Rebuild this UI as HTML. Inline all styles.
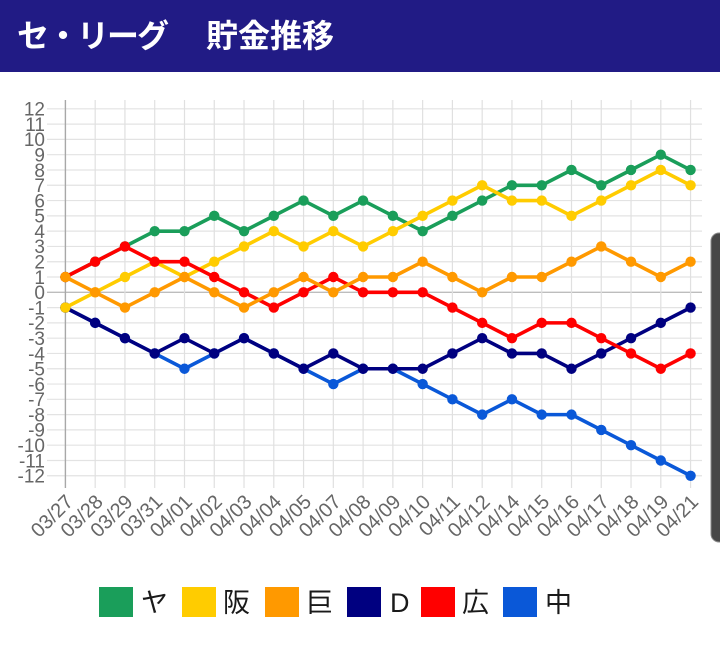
<!DOCTYPE html>
<html>
<head>
<meta charset="utf-8">
<style>
html,body{margin:0;padding:0;background:#fff;}
body{width:720px;height:652px;overflow:hidden;position:relative;}
svg{display:block;}
</style>
</head>
<body>
<svg width="720" height="652" viewBox="0 0 720 652" xmlns="http://www.w3.org/2000/svg">
<defs>
<marker id="mg" markerUnits="userSpaceOnUse" markerWidth="12" markerHeight="12" refX="6" refY="6"><circle cx="6" cy="6" r="5.2" fill="#1a9e5a"/></marker>
<marker id="my" markerUnits="userSpaceOnUse" markerWidth="12" markerHeight="12" refX="6" refY="6"><circle cx="6" cy="6" r="5.2" fill="#ffcc00"/></marker>
<marker id="mo" markerUnits="userSpaceOnUse" markerWidth="12" markerHeight="12" refX="6" refY="6"><circle cx="6" cy="6" r="5.2" fill="#ff9900"/></marker>
<marker id="mn" markerUnits="userSpaceOnUse" markerWidth="12" markerHeight="12" refX="6" refY="6"><circle cx="6" cy="6" r="5.2" fill="#000080"/></marker>
<marker id="mr" markerUnits="userSpaceOnUse" markerWidth="12" markerHeight="12" refX="6" refY="6"><circle cx="6" cy="6" r="5.2" fill="#ff0000"/></marker>
<marker id="mb" markerUnits="userSpaceOnUse" markerWidth="12" markerHeight="12" refX="6" refY="6"><circle cx="6" cy="6" r="5.2" fill="#0a58d8"/></marker>
</defs>

<!-- header -->
<rect x="0" y="0" width="720" height="72" fill="#211b85"/>
<text y="47" font-family="'Liberation Sans','Noto Sans CJK JP',sans-serif" font-size="32" font-weight="bold" fill="#ffffff"><tspan x="17" letter-spacing="-2">セ・リーグ</tspan><tspan x="206">貯金推移</tspan></text>

<!-- horizontal grid -->
<g stroke="#e3e3e3" stroke-width="1.2">
<line x1="47" y1="108.82" x2="702" y2="108.82"/>
<line x1="47" y1="124.11" x2="702" y2="124.11"/>
<line x1="47" y1="139.4" x2="702" y2="139.4"/>
<line x1="47" y1="154.69" x2="702" y2="154.69"/>
<line x1="47" y1="169.98" x2="702" y2="169.98"/>
<line x1="47" y1="185.27" x2="702" y2="185.27"/>
<line x1="47" y1="200.56" x2="702" y2="200.56"/>
<line x1="47" y1="215.85" x2="702" y2="215.85"/>
<line x1="47" y1="231.14" x2="702" y2="231.14"/>
<line x1="47" y1="246.43" x2="702" y2="246.43"/>
<line x1="47" y1="261.72" x2="702" y2="261.72"/>
<line x1="47" y1="277.01" x2="702" y2="277.01"/>
<line x1="47" y1="307.59" x2="702" y2="307.59"/>
<line x1="47" y1="322.88" x2="702" y2="322.88"/>
<line x1="47" y1="338.17" x2="702" y2="338.17"/>
<line x1="47" y1="353.46" x2="702" y2="353.46"/>
<line x1="47" y1="368.75" x2="702" y2="368.75"/>
<line x1="47" y1="384.04" x2="702" y2="384.04"/>
<line x1="47" y1="399.33" x2="702" y2="399.33"/>
<line x1="47" y1="414.62" x2="702" y2="414.62"/>
<line x1="47" y1="429.91" x2="702" y2="429.91"/>
<line x1="47" y1="445.2" x2="702" y2="445.2"/>
<line x1="47" y1="460.49" x2="702" y2="460.49"/>
<line x1="47" y1="475.78" x2="702" y2="475.78"/>
</g>
<line x1="47" y1="292.3" x2="702" y2="292.3" stroke="#bdbdbd" stroke-width="1.4"/>

<!-- vertical grid -->
<g stroke="#e0e0e0" stroke-width="1.2">
<line x1="95.17" y1="100" x2="95.17" y2="488"/>
<line x1="124.94" y1="100" x2="124.94" y2="488"/>
<line x1="154.71" y1="100" x2="154.71" y2="488"/>
<line x1="184.48" y1="100" x2="184.48" y2="488"/>
<line x1="214.25" y1="100" x2="214.25" y2="488"/>
<line x1="244.02" y1="100" x2="244.02" y2="488"/>
<line x1="273.79" y1="100" x2="273.79" y2="488"/>
<line x1="303.56" y1="100" x2="303.56" y2="488"/>
<line x1="333.33" y1="100" x2="333.33" y2="488"/>
<line x1="363.1" y1="100" x2="363.1" y2="488"/>
<line x1="392.87" y1="100" x2="392.87" y2="488"/>
<line x1="422.64" y1="100" x2="422.64" y2="488"/>
<line x1="452.41" y1="100" x2="452.41" y2="488"/>
<line x1="482.18" y1="100" x2="482.18" y2="488"/>
<line x1="511.95" y1="100" x2="511.95" y2="488"/>
<line x1="541.72" y1="100" x2="541.72" y2="488"/>
<line x1="571.49" y1="100" x2="571.49" y2="488"/>
<line x1="601.26" y1="100" x2="601.26" y2="488"/>
<line x1="631.03" y1="100" x2="631.03" y2="488"/>
<line x1="660.8" y1="100" x2="660.8" y2="488"/>
<line x1="690.57" y1="100" x2="690.57" y2="488"/>
</g>
<line x1="65.4" y1="100" x2="65.4" y2="488" stroke="#a8a8a8" stroke-width="1.4"/>

<!-- y labels -->
<g font-family="'Liberation Sans',sans-serif" font-size="19" fill="#666" text-anchor="end">
<text x="45" y="115.6">12</text>
<text x="45" y="130.9">11</text>
<text x="45" y="146.2">10</text>
<text x="45" y="161.5">9</text>
<text x="45" y="176.8">8</text>
<text x="45" y="192.1">7</text>
<text x="45" y="207.4">6</text>
<text x="45" y="222.6">5</text>
<text x="45" y="237.9">4</text>
<text x="45" y="253.2">3</text>
<text x="45" y="268.5">2</text>
<text x="45" y="283.8">1</text>
<text x="45" y="299.1">0</text>
<text x="45" y="314.4">-1</text>
<text x="45" y="329.7">-2</text>
<text x="45" y="345.0">-3</text>
<text x="45" y="360.3">-4</text>
<text x="45" y="375.6">-5</text>
<text x="45" y="390.8">-6</text>
<text x="45" y="406.1">-7</text>
<text x="45" y="421.4">-8</text>
<text x="45" y="436.7">-9</text>
<text x="45" y="452.0">-10</text>
<text x="45" y="467.3">-11</text>
<text x="45" y="482.6">-12</text>
</g>

<!-- x labels -->
<g font-family="'Liberation Sans',sans-serif" font-size="20" fill="#666" text-anchor="end">
<text transform="translate(69.4,498) rotate(-45)" dy="0.35em">03/27</text>
<text transform="translate(99.17,498) rotate(-45)" dy="0.35em">03/28</text>
<text transform="translate(128.94,498) rotate(-45)" dy="0.35em">03/29</text>
<text transform="translate(158.71,498) rotate(-45)" dy="0.35em">03/31</text>
<text transform="translate(188.48,498) rotate(-45)" dy="0.35em">04/01</text>
<text transform="translate(218.25,498) rotate(-45)" dy="0.35em">04/02</text>
<text transform="translate(248.02,498) rotate(-45)" dy="0.35em">04/03</text>
<text transform="translate(277.79,498) rotate(-45)" dy="0.35em">04/04</text>
<text transform="translate(307.56,498) rotate(-45)" dy="0.35em">04/05</text>
<text transform="translate(337.33,498) rotate(-45)" dy="0.35em">04/07</text>
<text transform="translate(367.1,498) rotate(-45)" dy="0.35em">04/08</text>
<text transform="translate(396.87,498) rotate(-45)" dy="0.35em">04/09</text>
<text transform="translate(426.64,498) rotate(-45)" dy="0.35em">04/10</text>
<text transform="translate(456.41,498) rotate(-45)" dy="0.35em">04/11</text>
<text transform="translate(486.18,498) rotate(-45)" dy="0.35em">04/12</text>
<text transform="translate(515.95,498) rotate(-45)" dy="0.35em">04/14</text>
<text transform="translate(545.72,498) rotate(-45)" dy="0.35em">04/15</text>
<text transform="translate(575.49,498) rotate(-45)" dy="0.35em">04/16</text>
<text transform="translate(605.26,498) rotate(-45)" dy="0.35em">04/17</text>
<text transform="translate(635.03,498) rotate(-45)" dy="0.35em">04/18</text>
<text transform="translate(664.8,498) rotate(-45)" dy="0.35em">04/19</text>
<text transform="translate(694.57,498) rotate(-45)" dy="0.35em">04/21</text>
</g>

<!-- series -->
<g fill="none" stroke-width="3.6" stroke-linejoin="round">
<polyline stroke="#0a58d8" marker-start="url(#mb)" marker-mid="url(#mb)" marker-end="url(#mb)" points="65.4,307.59 95.17,322.88 124.94,338.17 154.71,353.46 184.48,368.75 214.25,353.46 244.02,338.17 273.79,353.46 303.56,368.75 333.33,384.04 363.1,368.75 392.87,368.75 422.64,384.04 452.41,399.33 482.18,414.62 511.95,399.33 541.72,414.62 571.49,414.62 601.26,429.91 631.03,445.2 660.8,460.49 690.57,475.78"/>
<polyline stroke="#000080" marker-start="url(#mn)" marker-mid="url(#mn)" marker-end="url(#mn)" points="65.4,307.59 95.17,322.88 124.94,338.17 154.71,353.46 184.48,338.17 214.25,353.46 244.02,338.17 273.79,353.46 303.56,368.75 333.33,353.46 363.1,368.75 392.87,368.75 422.64,368.75 452.41,353.46 482.18,338.17 511.95,353.46 541.72,353.46 571.49,368.75 601.26,353.46 631.03,338.17 660.8,322.88 690.57,307.59"/>
<polyline stroke="#1a9e5a" marker-start="url(#mg)" marker-mid="url(#mg)" marker-end="url(#mg)" points="65.4,277.01 95.17,261.72 124.94,246.43 154.71,231.14 184.48,231.14 214.25,215.85 244.02,231.14 273.79,215.85 303.56,200.56 333.33,215.85 363.1,200.56 392.87,215.85 422.64,231.14 452.41,215.85 482.18,200.56 511.95,185.27 541.72,185.27 571.49,169.98 601.26,185.27 631.03,169.98 660.8,154.69 690.57,169.98"/>
<polyline stroke="#ffcc00" marker-start="url(#my)" marker-mid="url(#my)" marker-end="url(#my)" points="65.4,307.59 95.17,292.3 124.94,277.01 154.71,261.72 184.48,277.01 214.25,261.72 244.02,246.43 273.79,231.14 303.56,246.43 333.33,231.14 363.1,246.43 392.87,231.14 422.64,215.85 452.41,200.56 482.18,185.27 511.95,200.56 541.72,200.56 571.49,215.85 601.26,200.56 631.03,185.27 660.8,169.98 690.57,185.27"/>
<polyline stroke="#ff0000" marker-start="url(#mr)" marker-mid="url(#mr)" marker-end="url(#mr)" points="65.4,277.01 95.17,261.72 124.94,246.43 154.71,261.72 184.48,261.72 214.25,277.01 244.02,292.3 273.79,307.59 303.56,292.3 333.33,277.01 363.1,292.3 392.87,292.3 422.64,292.3 452.41,307.59 482.18,322.88 511.95,338.17 541.72,322.88 571.49,322.88 601.26,338.17 631.03,353.46 660.8,368.75 690.57,353.46"/>
<polyline stroke="#ff9900" marker-start="url(#mo)" marker-mid="url(#mo)" marker-end="url(#mo)" points="65.4,277.01 95.17,292.3 124.94,307.59 154.71,292.3 184.48,277.01 214.25,292.3 244.02,307.59 273.79,292.3 303.56,277.01 333.33,292.3 363.1,277.01 392.87,277.01 422.64,261.72 452.41,277.01 482.18,292.3 511.95,277.01 541.72,277.01 571.49,261.72 601.26,246.43 631.03,261.72 660.8,277.01 690.57,261.72"/>
</g>

<!-- scrollbar-like element -->
<rect x="711" y="233" width="20" height="309" rx="8" ry="8" fill="#474747" stroke="#8a8a8a" stroke-width="1"/>

<!-- legend -->
<rect x="99" y="587" width="34" height="30" fill="#1a9e5a"/>
<rect x="182" y="587" width="34" height="30" fill="#ffcc00"/>
<rect x="265" y="587" width="34" height="30" fill="#ff9900"/>
<rect x="347" y="587" width="34" height="30" fill="#000080"/>
<rect x="421" y="587" width="34" height="30" fill="#ff0000"/>
<rect x="503" y="587" width="34" height="30" fill="#0a58d8"/>
<g font-family="'Liberation Sans','Noto Sans CJK JP',sans-serif" font-size="27" fill="#1a1a1a">
<text x="141" y="612">ヤ</text>
<text x="223" y="612">阪</text>
<text x="306" y="612">巨</text>
<text x="390" y="612">D</text>
<text x="462" y="612">広</text>
<text x="545" y="612">中</text>
</g>
</svg>
</body>
</html>
